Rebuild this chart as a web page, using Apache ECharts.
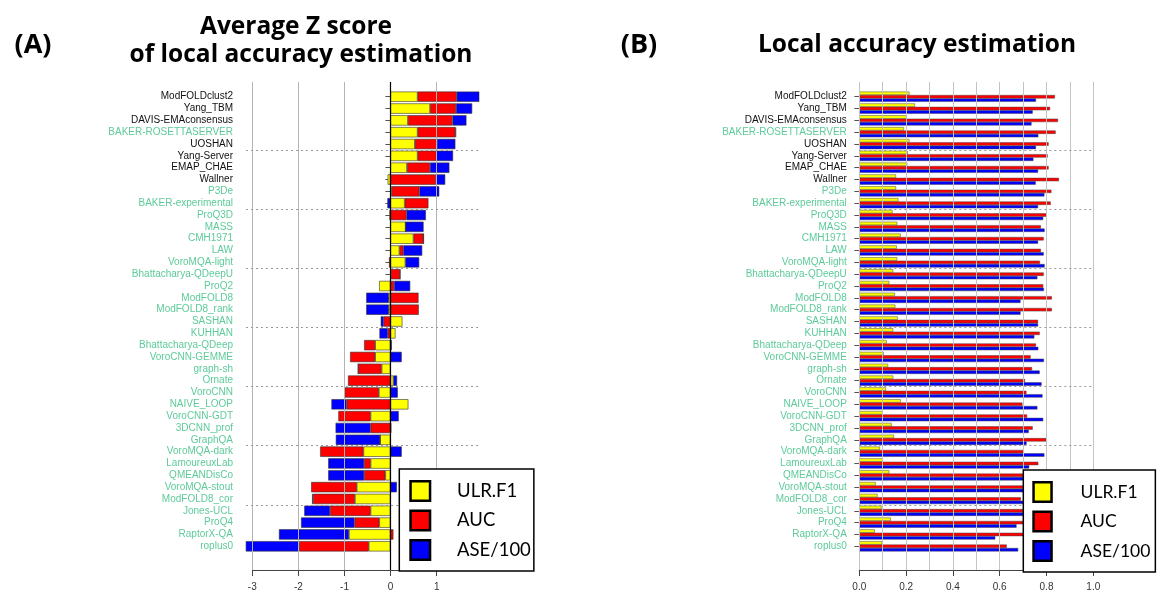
<!DOCTYPE html>
<html>
<head>
<meta charset="utf-8">
<script src="https://cdn.jsdelivr.net/npm/echarts@6/dist/echarts.min.js"></script>
<style>
  html, body { margin: 0; padding: 0; background: #fff; }
  #chart { width: 1160px; height: 597px; }
</style>
</head>
<body>
<div id="chart"></div>
<script>
// Methods, top to bottom
const methods = [
  'ModFOLDclust2', 'Yang_TBM', 'DAVIS-EMAconsensus', 'BAKER-ROSETTASERVER', 'UOSHAN',
  'Yang-Server', 'EMAP_CHAE', 'Wallner', 'P3De', 'BAKER-experimental',
  'ProQ3D', 'MASS', 'CMH1971', 'LAW', 'VoroMQA-light',
  'Bhattacharya-QDeepU', 'ProQ2', 'ModFOLD8', 'ModFOLD8_rank', 'SASHAN',
  'KUHHAN', 'Bhattacharya-QDeep', 'VoroCNN-GEMME', 'graph-sh', 'Ornate',
  'VoroCNN', 'NAIVE_LOOP', 'VoroCNN-GDT', '3DCNN_prof', 'GraphQA',
  'VoroMQA-dark', 'LamoureuxLab', 'QMEANDisCo', 'VoroMQA-stout', 'ModFOLD8_cor',
  'Jones-UCL', 'ProQ4', 'RaptorX-QA', 'roplus0'
];
// Server groups printed in black; the rest are printed in green
const blackMethods = ['ModFOLDclust2', 'Yang_TBM', 'DAVIS-EMAconsensus', 'UOSHAN',
  'Yang-Server', 'EMAP_CHAE', 'Wallner'];

const seriesNames = ['ULR.F1', 'AUC', 'ASE/100'];

// (A) average Z scores
const zUlr = [0.59, 0.86, 0.38, 0.59, 0.53, 0.59, 0.36, -0.06, 0.03, 0.31,
  -0.02, 0.33, 0.50, 0.195, 0.325, 0.01, -0.245, -0.035, -0.035, 0.26,
  0.11, -0.33, -0.33, -0.19, 0.065, -0.25, 0.39, -0.43, 0.02, -0.225,
  -0.585, -0.43, -0.11, -0.73, -0.77, -0.43, -0.24, -0.90, -0.47];
const zAuc = [0.85, 0.565, 0.97, 0.82, 0.48, 0.41, 0.50, 0.99, 0.60, 0.515,
  0.35, 0, 0.22, 0.085, -0.03, 0.20, 0.08, 0.61, 0.615, -0.145,
  -0.058, -0.24, -0.545, -0.51, -0.92, -0.745, -0.95, -0.70, -0.43, 0,
  -0.94, -0.14, -0.46, -0.99, -0.91, -0.88, -0.54, 0.065, -1.51];
const zAse = [0.49, 0.35, 0.30, 0.015, 0.40, 0.36, 0.42, 0.20, 0.43, -0.065,
  0.42, 0.39, 0, 0.41, 0.30, 0, 0.35, -0.49, -0.49, -0.065,
  -0.18, 0.03, 0.245, 0, 0.08, 0.16, -0.33, 0.18, -0.76, -0.96,
  0.245, -0.78, -0.78, 0.14, -0.02, -0.56, -1.16, -1.52, -1.16];

// (B) raw local accuracy scores
const ulrF1 = [0.214, 0.238, 0.202, 0.191, 0.214, 0.207, 0.205, 0.157, 0.157, 0.167,
  0.142, 0.162, 0.177, 0.160, 0.162, 0.145, 0.128, 0.152, 0.154, 0.164,
  0.145, 0.117, 0.104, 0.123, 0.145, 0.114, 0.177, 0.100, 0.138, 0.148,
  0.088, 0.100, 0.128, 0.070, 0.078, 0.095, 0.135, 0.066, 0.098];
const auc = [0.836, 0.815, 0.849, 0.839, 0.809, 0.805, 0.809, 0.853, 0.821, 0.818,
  0.800, 0.776, 0.788, 0.776, 0.772, 0.788, 0.786, 0.823, 0.823, 0.764,
  0.771, 0.755, 0.732, 0.738, 0.708, 0.714, 0.697, 0.717, 0.741, 0.799,
  0.701, 0.765, 0.720, 0.700, 0.690, 0.700, 0.710, 0.760, 0.630];
const ase100 = [0.755, 0.741, 0.736, 0.765, 0.755, 0.744, 0.764, 0.754, 0.791, 0.764,
  0.786, 0.792, 0.764, 0.788, 0.792, 0.761, 0.789, 0.689, 0.689, 0.764,
  0.748, 0.765, 0.789, 0.771, 0.779, 0.783, 0.761, 0.786, 0.724, 0.715,
  0.791, 0.726, 0.730, 0.780, 0.760, 0.720, 0.672, 0.581, 0.679];

// Axis ticks and dotted separators (every five methods)
const zTicks = { min: -3, max: 1, step: 1 };
const zRange = [-3.135, 1.945];
const accTicks = { min: 0, max: 1, step: 0.2, grid: 0.1 };
const separators = [4.5, 9.5, 14.5, 19.5, 24.5, 29.5, 34.5];

const COLORS = ['#ffff00', '#ff0000', '#0000ff'];
const GREEN = '#5dcb9a';
const LABEL_FONT = 'Liberation Sans';
const TITLE_FONT = 'Open Sans';
const LEGEND_FONT = 'Lato';

const chart = echarts.init(document.getElementById('chart'), null, { renderer: 'canvas' });

// plot rectangles
const A = { left: 246, right: 480, axisL: 252.3, axisR: 436.7 };
const B = { left: 859.3, right: 1093.3 };
const barsTop = 90.8, barsH = 461.4, frameTop = 82, frameBottom = 570;

function catAxis(gridIndex, margin) {
  return {
    type: 'category', gridIndex, data: methods, inverse: true,
    axisLine: { show: false },
    axisTick: { show: true, alignWithLabel: true, length: 5, lineStyle: { color: '#555', width: 1 } },
    axisLabel: {
      interval: 0, margin, fontSize: 10, fontFamily: LABEL_FONT,
      color: (v) => blackMethods.includes(v) ? '#111' : GREEN
    },
    splitLine: { show: false }
  };
}
function hiddenValue(gridIndex, extra) {
  return Object.assign({ type: 'value', gridIndex, show: false, splitLine: { show: false } }, extra || {});
}
function sepSeries(xi, yi) {
  return {
    type: 'line', xAxisIndex: xi, yAxisIndex: yi, data: [], z: 1, silent: true,
    markLine: {
      silent: true, symbol: ['none', 'none'], label: { show: false }, animation: false,
      lineStyle: { type: [2, 3], color: '#9a9a9a', width: 1 },
      data: separators.map(v => ({ yAxis: v }))
    }
  };
}
const legendBase = {
  orient: 'vertical', data: seriesNames, icon: 'rect', selectedMode: false,
  borderColor: '#000', borderWidth: 1.5, backgroundColor: '#fff', z: 10,
  itemStyle: { borderColor: '#000', borderWidth: 2.5 }
};

const option = {
  animation: false,
  backgroundColor: '#fff',
  grid: [
    { left: A.left, width: A.right - A.left, top: barsTop, height: barsH },            // 0 A bars
    { left: A.axisL, width: A.axisR - A.axisL, top: frameTop, height: frameBottom - frameTop }, // 1 A frame
    { left: A.left, width: A.right - A.left, top: barsTop, height: barsH },            // 2 A separators
    { left: B.left, width: B.right - B.left, top: barsTop, height: barsH },            // 3 B bars
    { left: B.left, width: B.right - B.left, top: frameTop, height: frameBottom - frameTop }, // 4 B frame
    { left: B.left, width: B.right - B.left, top: barsTop, height: barsH }             // 5 B separators
  ],
  xAxis: [
    hiddenValue(0, { min: zRange[0], max: zRange[1] }),
    {
      type: 'value', gridIndex: 1, min: zTicks.min, max: zTicks.max, interval: zTicks.step, z: 5,
      axisLine: { show: true, lineStyle: { color: '#444', width: 1 } },
      axisTick: { show: true, length: 6, lineStyle: { color: '#444' } },
      axisLabel: { margin: 12, fontSize: 10, fontFamily: LABEL_FONT, color: '#333' },
      splitLine: { show: true, lineStyle: { color: '#b4b4b4', width: 1 } }
    },
    hiddenValue(2, { min: 0, max: 1 }),
    hiddenValue(3, { min: accTicks.min, max: accTicks.max }),
    {
      type: 'value', gridIndex: 4, min: accTicks.min, max: accTicks.max, interval: accTicks.grid, z: 5,
      position: 'bottom',
      axisLine: { show: false }, axisTick: { show: false }, axisLabel: { show: false },
      splitLine: { show: true, lineStyle: { color: '#c4c4c4', width: 1 } }
    },
    {
      type: 'value', gridIndex: 4, min: accTicks.min, max: accTicks.max, interval: accTicks.step, z: 5,
      position: 'bottom',
      axisLine: { show: true, lineStyle: { color: '#444', width: 1 } },
      axisTick: { show: true, length: 6, lineStyle: { color: '#444' } },
      axisLabel: { margin: 12, fontSize: 10, fontFamily: LABEL_FONT, color: '#333',
        formatter: v => v.toFixed(1) },
      splitLine: { show: false }
    },
    hiddenValue(5, { min: 0, max: 1 })
  ],
  yAxis: [
    catAxis(0, 13),
    hiddenValue(1, { min: 0, max: 1 }),
    hiddenValue(2, { min: -0.5, max: methods.length - 0.5, inverse: true }),
    catAxis(3, 12.5),
    hiddenValue(4, { min: 0, max: 1 }),
    hiddenValue(5, { min: -0.5, max: methods.length - 0.5, inverse: true })
  ],
  legend: [
    Object.assign({}, legendBase, {
      left: 399.3, top: 469, itemWidth: 19.5, itemHeight: 19.5, itemGap: 7.5,
      padding: [11, 3, 10, 10],
      textStyle: { fontFamily: LEGEND_FONT, fontSize: 18.5, lineHeight: 19, color: '#000', padding: [0, 0, 0, 22] }
    }),
    Object.assign({}, legendBase, {
      left: 1023.3, top: 470, itemWidth: 18, itemHeight: 19.5, itemGap: 7.5,
      padding: [11, 5, 10, 9],
      textStyle: { fontFamily: LEGEND_FONT, fontSize: 17.5, lineHeight: 19, color: '#000', padding: [0, 0, 0, 24] }
    })
  ],
  graphic: [
    { type: 'text', x: 33, y: 45, z: 10, style: { text: '(A)', font: `bold 27px '${TITLE_FONT}'`, fill: '#000', align: 'center', verticalAlign: 'middle' } },
    { type: 'text', x: 296, y: 27, z: 10, style: { text: 'Average Z score', font: `bold 24.5px '${TITLE_FONT}'`, fill: '#000', align: 'center', verticalAlign: 'middle' } },
    { type: 'text', x: 301, y: 55, z: 10, style: { text: 'of local accuracy estimation', font: `bold 24.5px '${TITLE_FONT}'`, fill: '#000', align: 'center', verticalAlign: 'middle' } },
    { type: 'text', x: 639, y: 45, z: 10, style: { text: '(B)', font: `bold 27px '${TITLE_FONT}'`, fill: '#000', align: 'center', verticalAlign: 'middle' } },
    { type: 'text', x: 917, y: 45, z: 10, style: { text: 'Local accuracy estimation', font: `bold 24.5px '${TITLE_FONT}'`, fill: '#000', align: 'center', verticalAlign: 'middle' } }
  ],
  series: [
    // (A) stacked Z scores: positives grow right from 0, negatives grow left
    ...[zUlr, zAuc, zAse].map((vals, i) => ({
      name: seriesNames[i], type: 'bar', xAxisIndex: 0, yAxisIndex: 0,
      stack: 'z', stackStrategy: 'samesign', barWidth: '87%', z: 2,
      itemStyle: { color: COLORS[i], borderColor: '#333', borderWidth: 0.6 },
      data: vals
    })),
    // zero reference line
    {
      type: 'line', xAxisIndex: 1, yAxisIndex: 1, data: [], z: 6, silent: true,
      markLine: {
        silent: true, symbol: ['none', 'none'], label: { show: false }, animation: false,
        lineStyle: { type: 'solid', color: '#000', width: 1.2 },
        data: [{ xAxis: 0 }]
      }
    },
    sepSeries(2, 2),
    // (B) grouped raw scores
    ...[ulrF1, auc, ase100].map((vals, i) => ({
      name: seriesNames[i], type: 'bar', xAxisIndex: 3, yAxisIndex: 3,
      barWidth: 3.4, barGap: '0%', z: 2,
      itemStyle: { color: COLORS[i], borderColor: '#444', borderWidth: 0.5 },
      data: vals
    })),
    sepSeries(6, 5)
  ]
};

chart.setOption(option);
</script>
</body>
</html>
